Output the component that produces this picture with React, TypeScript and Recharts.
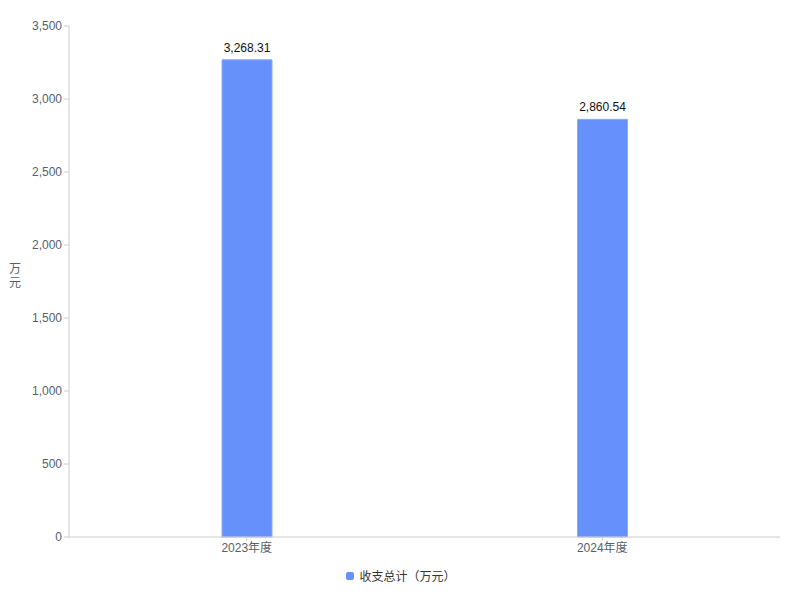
import React from 'react';
import { BarChart, Bar, XAxis, YAxis, Legend, LabelList, Label } from 'recharts';

const categories = ['2023年度', '2024年度'];
const totals = [3268.31, 2860.54];
const yTicks = [0, 500, 1000, 1500, 2000, 2500, 3000, 3500];
const seriesName = '收支总计（万元）';

const data = categories.map((name, i) => ({ name, total: totals[i] }));

const fmt = (v: number) => v.toLocaleString('en-US');
const fmt2 = (v: number) =>
  v.toLocaleString('en-US', { minimumFractionDigits: 2, maximumFractionDigits: 2 });

const font = 'Liberation Sans, Arial, "Noto Sans CJK SC", sans-serif';

const YUnit = (props: any) => {
  const { viewBox } = props;
  const cy = viewBox.y + viewBox.height / 2;
  return (
    <text x={15} y={cy} textAnchor="middle" fill="#555f6d" fontSize={12} fontFamily={font}>
      <tspan x={15} y={cy - 9}>万</tspan>
      <tspan x={15} y={cy + 5}>元</tspan>
    </text>
  );
};

const CustomLegend = () => (
  <div style={{ display: 'flex', justifyContent: 'center', alignItems: 'center', paddingLeft: 22, fontFamily: font, fontSize: 12, color: '#333' }}>
    <span style={{ width: 8, height: 8, borderRadius: 2, background: '#6690fb', display: 'inline-block', marginRight: 5 }} />
    <span>{seriesName}</span>
  </div>
);

export default function App() {
  return (
    <div style={{ position: 'absolute', left: 0, top: 0, width: 800, height: 600, background: '#fff' }}>
      <BarChart width={800} height={600} data={data} margin={{ top: 26, right: 20, bottom: 16, left: 0 }}>
        <XAxis
          dataKey="name"
          height={30}
          axisLine={{ stroke: '#cccccc' }}
          tickLine={{ stroke: '#cccccc' }}
          tickSize={4}
          tick={{ fill: '#555f6d', fontSize: 12, fontFamily: font }}
        />
        <YAxis
          width={69}
          domain={[0, 3500]}
          ticks={yTicks}
          interval={0}
          tickFormatter={fmt}
          axisLine={{ stroke: '#cccccc' }}
          tickLine={{ stroke: '#cccccc' }}
          tickSize={5}
          tick={{ fill: '#555f6d', fontSize: 12, fontFamily: font }}
        >
          <Label content={<YUnit />} />
        </YAxis>
        <Legend verticalAlign="bottom" content={<CustomLegend />} wrapperStyle={{ bottom: 16 }} />
        <Bar dataKey="total" name={seriesName} fill="#6690fb" stroke="#8aaaff" strokeWidth={1} barSize={50} isAnimationActive={false}>
          <LabelList dataKey="total" position="top" offset={8} formatter={(v: any) => fmt2(Number(v))} fill="#111" fontSize={12} fontFamily={font} />
        </Bar>
      </BarChart>
    </div>
  );
}
